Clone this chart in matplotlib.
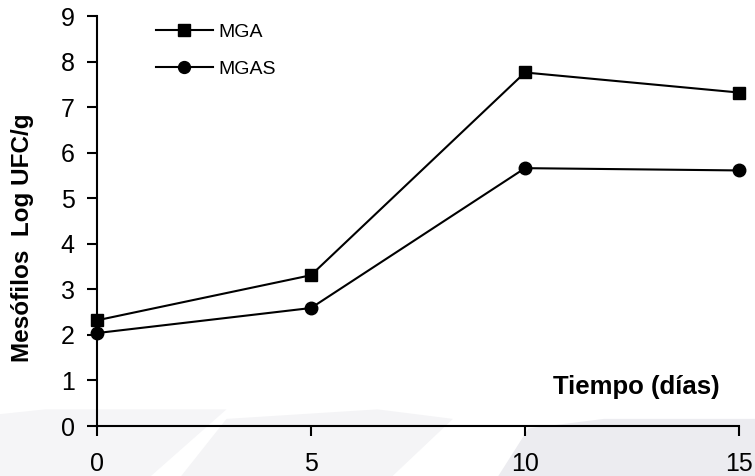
import matplotlib.pyplot as plt
from matplotlib.patches import Polygon

plt.rcParams['font.family'] = ['Liberation Sans', 'DejaVu Sans']

dias = [0, 5, 10, 15]
mga = [2.32, 3.31, 7.76, 7.32]
mgas = [2.04, 2.59, 5.66, 5.61]

fig = plt.figure(figsize=(7.55, 4.76), dpi=100)

# faint background shapes along the bottom
fondo = [
    ([(0, 0), (0.0, 0.13), (0.06, 0.14), (0.30, 0.14), (0.20, 0.0)], '#f5f5f7'),
    ([(0.24, 0), (0.30, 0.12), (0.50, 0.14), (0.60, 0.12), (0.52, 0.0)], '#f4f4f6'),
    ([(0.66, 0), (0.70, 0.10), (0.80, 0.12), (1.0, 0.12), (1.0, 0.0)], '#ececf0'),
]
for pts, col in fondo:
    fig.patches.append(Polygon(pts, closed=True, transform=fig.transFigure,
                               facecolor=col, edgecolor='none', zorder=-5))

ax = fig.add_axes([97 / 755, 50 / 476, 642 / 755, 410 / 476])
ax.patch.set_alpha(0)

ax.plot(dias, mga, color='black', lw=1.5, marker='s', ms=9, label='MGA', clip_on=False)
ax.plot(dias, mgas, color='black', lw=1.5, marker='o', ms=9, label='MGAS', clip_on=False)

ax.set_xlim(0, 15)
ax.set_ylim(0, 9)
ax.set_xticks([0, 5, 10, 15])
ax.set_yticks(range(10))
ax.spines['top'].set_visible(False)
ax.spines['right'].set_visible(False)
ax.spines['left'].set_linewidth(1.5)
ax.spines['bottom'].set_linewidth(1.5)
ax.tick_params(axis='both', direction='out', length=7, width=1.5, labelsize=18)
ax.tick_params(axis='x', pad=12)
ax.tick_params(axis='y', pad=9)

ax.set_ylabel('Mesófilos  Log UFC/g', fontsize=17.5, fontweight='bold')
ax.yaxis.set_label_coords(-0.098, 0.46)
ax.text(0.97, 0.095, 'Tiempo (días)', transform=ax.transAxes, ha='right', va='center',
        fontsize=18.5, fontweight='bold')

ax.legend(loc='upper left', bbox_to_anchor=(0.065, 1.025), frameon=False, fontsize=14,
          handlelength=2.9, handletextpad=0.3, labelspacing=1.0, markerscale=0.95)

fig.savefig('out.png', dpi=100)
